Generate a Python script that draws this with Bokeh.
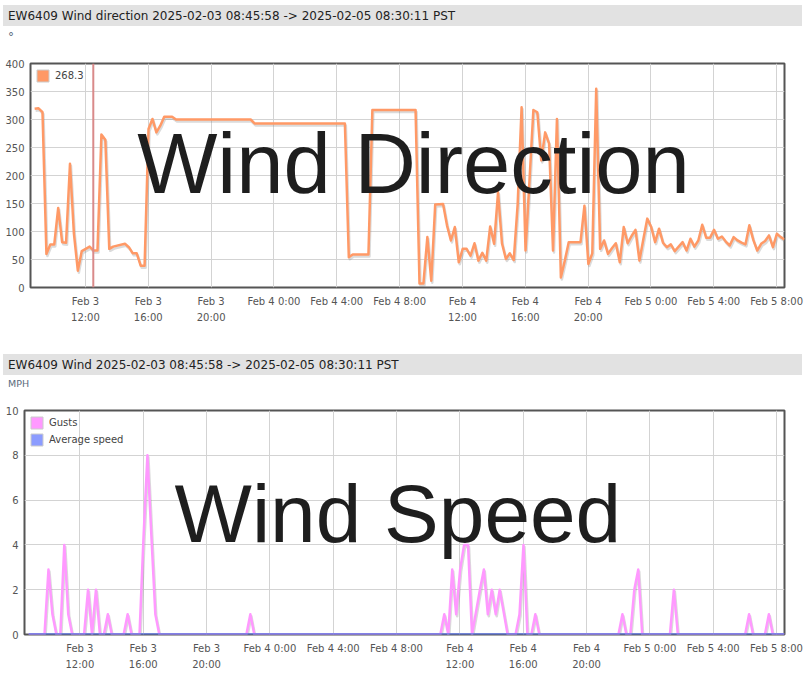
import html
import pandas as pd
from bokeh.plotting import figure
from bokeh.layouts import column, row
from bokeh.models import (Range1d, FixedTicker, ColumnDataSource, Legend, LegendItem,
                          Span, DatetimeAxis, Div)
from bokeh.core.properties import value
from bokeh.transform import dodge
from bokeh.embed import file_html
from bokeh.resources import INLINE

# ---------------- data ----------------
title_dir = "EW6409 Wind direction 2025-02-03 08:45:58 -> 2025-02-05 08:30:11 PST"
title_wind = "EW6409 Wind 2025-02-03 08:45:58 -> 2025-02-05 08:30:11 PST"
unit_dir = "°"
unit_wind = "MPH"
overlay_dir = "Wind Direction"
overlay_wind = "Wind Speed"
range_start = "2025-02-03 08:30:11"
range_end = "2025-02-05 08:30:11"
cursor_time = "2025-02-03 12:30"
legend_dir = "268.3"
legend_gust = "Gusts"
legend_avg = "Average speed"

dir_times = [
    "2025-02-03 08:46", "2025-02-03 09:01", "2025-02-03 09:16", "2025-02-03 09:31",
    "2025-02-03 09:46", "2025-02-03 10:01", "2025-02-03 10:16", "2025-02-03 10:31",
    "2025-02-03 10:46", "2025-02-03 11:01", "2025-02-03 11:16", "2025-02-03 11:31",
    "2025-02-03 11:46", "2025-02-03 12:16", "2025-02-03 12:31", "2025-02-03 12:46",
    "2025-02-03 13:01", "2025-02-03 13:16", "2025-02-03 13:31", "2025-02-03 13:46",
    "2025-02-03 14:31", "2025-02-03 14:46", "2025-02-03 15:01", "2025-02-03 15:16",
    "2025-02-03 15:31", "2025-02-03 15:46", "2025-02-03 16:01", "2025-02-03 16:16",
    "2025-02-03 16:31", "2025-02-03 16:46", "2025-02-03 17:01", "2025-02-03 17:31",
    "2025-02-03 17:46", "2025-02-03 22:31", "2025-02-03 22:46", "2025-02-04 04:31",
    "2025-02-04 04:46", "2025-02-04 05:01", "2025-02-04 06:01", "2025-02-04 06:16",
    "2025-02-04 09:01", "2025-02-04 09:16", "2025-02-04 09:31", "2025-02-04 09:46",
    "2025-02-04 10:01", "2025-02-04 10:16", "2025-02-04 10:46", "2025-02-04 11:01",
    "2025-02-04 11:16", "2025-02-04 11:31", "2025-02-04 11:46", "2025-02-04 12:01",
    "2025-02-04 12:16", "2025-02-04 12:31", "2025-02-04 12:46", "2025-02-04 13:01",
    "2025-02-04 13:16", "2025-02-04 13:31", "2025-02-04 13:46", "2025-02-04 14:01",
    "2025-02-04 14:16", "2025-02-04 14:31", "2025-02-04 14:46", "2025-02-04 15:01",
    "2025-02-04 15:16", "2025-02-04 15:31", "2025-02-04 15:46", "2025-02-04 16:01",
    "2025-02-04 16:16", "2025-02-04 16:31", "2025-02-04 16:46", "2025-02-04 17:01",
    "2025-02-04 17:16", "2025-02-04 17:31", "2025-02-04 17:46", "2025-02-04 18:01",
    "2025-02-04 18:16", "2025-02-04 18:31", "2025-02-04 18:46", "2025-02-04 19:31",
    "2025-02-04 19:46", "2025-02-04 20:01", "2025-02-04 20:16", "2025-02-04 20:31",
    "2025-02-04 20:46", "2025-02-04 21:01", "2025-02-04 21:16", "2025-02-04 21:31",
    "2025-02-04 21:46", "2025-02-04 22:01", "2025-02-04 22:16", "2025-02-04 22:31",
    "2025-02-04 22:46", "2025-02-04 23:01", "2025-02-04 23:16", "2025-02-04 23:31",
    "2025-02-04 23:46", "2025-02-05 00:01", "2025-02-05 00:16", "2025-02-05 00:31",
    "2025-02-05 00:46", "2025-02-05 01:01", "2025-02-05 01:16", "2025-02-05 01:31",
    "2025-02-05 01:46", "2025-02-05 02:01", "2025-02-05 02:16", "2025-02-05 02:31",
    "2025-02-05 02:46", "2025-02-05 03:01", "2025-02-05 03:16", "2025-02-05 03:31",
    "2025-02-05 03:46", "2025-02-05 04:01", "2025-02-05 04:16", "2025-02-05 04:31",
    "2025-02-05 04:46", "2025-02-05 05:01", "2025-02-05 05:16", "2025-02-05 05:31",
    "2025-02-05 05:46", "2025-02-05 06:01", "2025-02-05 06:16", "2025-02-05 06:31",
    "2025-02-05 06:46", "2025-02-05 07:01", "2025-02-05 07:16", "2025-02-05 07:31",
    "2025-02-05 07:46", "2025-02-05 08:01", "2025-02-05 08:16", "2025-02-05 08:30",
]
dir_values = [
    319, 320, 313, 60,
    77, 77, 142, 81,
    80, 221, 96, 30,
    65, 73, 66, 66,
    273, 264, 69, 73,
    78, 72, 61, 61,
    39, 39, 283, 301,
    277, 289, 305, 305,
    300, 300, 293, 293,
    54, 59, 59, 317,
    317, 7, 7, 90,
    12, 148, 149, 111,
    84, 108, 45, 69,
    69, 57, 79, 48,
    62, 48, 109, 78,
    170, 79, 51, 61,
    49, 149, 322, 66,
    190, 317, 313, 227,
    277, 257, 66, 301,
    18, 48, 81, 81,
    146, 42, 61, 355,
    69, 84, 60, 70,
    79, 45, 108, 79,
    92, 103, 48, 86,
    123, 108, 81, 105,
    80, 72, 77, 65,
    73, 81, 66, 87,
    73, 84, 112, 89,
    89, 103, 87, 91,
    82, 75, 90, 84,
    80, 77, 111, 85,
    66, 78, 83, 93,
    72, 96, 90, 86,
]

gust_times = [
    "2025-02-03 08:46", "2025-02-03 09:46", "2025-02-03 10:01", "2025-02-03 10:16",
    "2025-02-03 10:31", "2025-02-03 10:46", "2025-02-03 11:01", "2025-02-03 11:16",
    "2025-02-03 11:31", "2025-02-03 12:16", "2025-02-03 12:31", "2025-02-03 12:46",
    "2025-02-03 13:01", "2025-02-03 13:16", "2025-02-03 13:31", "2025-02-03 13:46",
    "2025-02-03 14:01", "2025-02-03 14:46", "2025-02-03 15:01", "2025-02-03 15:16",
    "2025-02-03 15:46", "2025-02-03 16:01", "2025-02-03 16:16", "2025-02-03 16:31",
    "2025-02-03 16:46", "2025-02-03 17:01", "2025-02-03 22:31", "2025-02-03 22:46",
    "2025-02-03 23:01", "2025-02-04 10:46", "2025-02-04 11:01", "2025-02-04 11:16",
    "2025-02-04 11:31", "2025-02-04 11:46", "2025-02-04 12:01", "2025-02-04 12:16",
    "2025-02-04 12:31", "2025-02-04 12:46", "2025-02-04 13:01", "2025-02-04 13:16",
    "2025-02-04 13:31", "2025-02-04 13:46", "2025-02-04 14:01", "2025-02-04 14:16",
    "2025-02-04 14:31", "2025-02-04 14:46", "2025-02-04 15:01", "2025-02-04 15:31",
    "2025-02-04 15:46", "2025-02-04 16:01", "2025-02-04 16:16", "2025-02-04 16:31",
    "2025-02-04 16:46", "2025-02-04 17:01", "2025-02-04 22:01", "2025-02-04 22:16",
    "2025-02-04 22:31", "2025-02-04 22:46", "2025-02-04 23:01", "2025-02-04 23:16",
    "2025-02-04 23:31", "2025-02-05 01:16", "2025-02-05 01:31", "2025-02-05 01:46",
    "2025-02-05 06:01", "2025-02-05 06:16", "2025-02-05 06:31", "2025-02-05 07:16",
    "2025-02-05 07:31", "2025-02-05 07:46", "2025-02-05 08:30",
]
gust_values = [
    0, 0, 2.9, 0.9,
    0, 0, 4.0, 0.9,
    0, 0, 2.0, 0,
    2.0, 0, 0, 0.9,
    0, 0, 0.9, 0,
    0, 4.3, 8.0, 4.4,
    0.9, 0, 0, 0.9,
    0, 0, 0.9, 0,
    2.9, 0.9, 2.9, 4.0,
    4.0, 0, 1.0, 2.0,
    2.9, 0.9, 2.0, 0.9,
    2.0, 1.0, 0, 0,
    0.9, 4.0, 0, 0,
    0.9, 0, 0, 0.9,
    0, 0, 2.0, 2.9,
    0, 0, 2.0, 0,
    0, 0.9, 0, 0,
    0.9, 0, 0,
]

avg_times = ["2025-02-03 08:46", "2025-02-04 00:01", "2025-02-05 00:01", "2025-02-05 08:30"]
avg_values = [0, 0, 0, 0]

tick_times = [
    "2025-02-03 12:00", "2025-02-03 16:00", "2025-02-03 20:00", "2025-02-04 00:00",
    "2025-02-04 04:00", "2025-02-04 08:00", "2025-02-04 12:00", "2025-02-04 16:00",
    "2025-02-04 20:00", "2025-02-05 00:00", "2025-02-05 04:00", "2025-02-05 08:00",
]
tick_labels = [
    "Feb 3\n12:00", "Feb 3\n16:00", "Feb 3\n20:00", "Feb 4 0:00",
    "Feb 4 4:00", "Feb 4 8:00", "Feb 4\n12:00", "Feb 4\n16:00",
    "Feb 4\n20:00", "Feb 5 0:00", "Feb 5 4:00", "Feb 5 8:00",
]
dir_yticks = [0, 50, 100, 150, 200, 250, 300, 350, 400]
wind_yticks = [0, 2, 4, 6, 8, 10]

# ---------------- helpers ----------------
FONT = "DejaVu Sans"
W = 802


def ms(t):
    return int(pd.Timestamp(t).value // 10**6)


tick_ms = [ms(t) for t in tick_times]
label_line1 = [s.split("\n")[0] for s in tick_labels]
label_line2 = [s.split("\n")[1] if "\n" in s else "" for s in tick_labels]


def header(title, unit, unit_size, unit_gap, H):
    txt = (
        '<div style="margin-left:1px;width:799px;height:21px;background:#e2e2e2;'
        "font-family:'DejaVu Sans';font-size:12px;color:#222222;line-height:22px;"
        'padding-left:5px;box-sizing:border-box;white-space:nowrap;overflow:hidden">'
        + html.escape(title) + '</div>'
        "<div style=\"font-family:'DejaVu Sans';font-size:" + unit_size + ";color:#5a6a7c;"
        'line-height:12px;margin-top:' + unit_gap + ';padding-left:6px;white-space:nowrap">'
        + html.escape(unit) + '</div>'
    )
    return Div(text=txt, width=W, height=H, margin=0)


def make_fig(H, yr, yticks, left, top, bottom):
    p = figure(width=W, height=H, x_axis_type="datetime",
               x_range=Range1d(pd.Timestamp(range_start), pd.Timestamp(range_end)),
               y_range=Range1d(*yr), output_backend="svg", toolbar_location=None,
               min_border_left=left, min_border_right=20,
               min_border_top=top, min_border_bottom=bottom, margin=0)
    p.outline_line_color = "#555555"
    p.outline_line_width = 2
    p.background_fill_color = "white"
    p.border_fill_color = "white"
    p.xaxis.ticker = FixedTicker(ticks=tick_ms)
    p.xaxis.major_label_overrides = dict(zip(tick_ms, label_line1))
    ax2 = DatetimeAxis(ticker=FixedTicker(ticks=tick_ms),
                       major_label_overrides=dict(zip(tick_ms, label_line2)))
    p.add_layout(ax2, "below")
    p.yaxis.ticker = FixedTicker(ticks=yticks)
    for ax in p.axis:
        ax.axis_line_color = None
        ax.major_tick_line_color = None
        ax.minor_tick_line_color = None
        ax.major_tick_out = 0
        ax.major_tick_in = 0
        ax.major_label_text_font = FONT
        ax.major_label_text_font_size = "10px"
        ax.major_label_text_color = "#555555"
    p.xaxis[0].major_label_standoff = 8
    ax2.major_label_standoff = 2
    p.yaxis.major_label_standoff = 6
    p.xgrid.grid_line_color = "#d3d3d3"
    p.ygrid.grid_line_color = "#d3d3d3"
    return p


def legend(p, items):
    lg = Legend(items=items, location="top_left", margin=5, padding=7,
                spacing=2, glyph_width=15, glyph_height=15, label_height=15,
                label_standoff=5, border_line_color=None,
                background_fill_alpha=0, label_text_font=FONT,
                label_text_font_size="10px", label_text_color="#444444")
    p.add_layout(lg)


# ---------------- chart 1: wind direction ----------------
h1 = header(title_dir, unit_dir, "12px", "5px", 37)
p1 = make_fig(312, (0, 400), dir_yticks, 26, 21, 67)

src_dir = ColumnDataSource(dict(t=pd.to_datetime(dir_times), v=dir_values))
px1 = 15.75  # px per hour, used only for the 1px drop-shadow offset
sw1 = p1.quad(left="t", right="t", top="v", bottom="v", source=src_dir,
              fill_color="#ff9966", line_color="#cccccc", line_width=1)
p1.line(x=dodge("t", 3600000 / px1), y=dodge("v", -2 * 400 / 224), source=src_dir,
        line_color="#888888", line_alpha=0.3, line_width=2.5, line_join="round")
p1.line(x="t", y="v", source=src_dir, line_color="#ff9966", line_width=2.5,
        line_join="round")
p1.add_layout(Span(location=ms(cursor_time), dimension="height",
                   line_color="#d98a8a", line_width=2))
legend(p1, [LegendItem(label=legend_dir, renderers=[sw1])])
p1.text(x=[pd.Timestamp("2025-02-04 08:53")], y=[222], text=[overlay_dir],
        text_font=value("Liberation Sans"), text_font_size="85px",
        text_color="#1e1e1e", text_align="center", text_baseline="middle")

# ---------------- chart 2: wind speed ----------------
h2 = header(title_wind, unit_wind, "9.5px", "3px", 36)
p2 = make_fig(284, (0, 10), wind_yticks, 20, 20, 40)

src_g = ColumnDataSource(dict(t=pd.to_datetime(gust_times), v=gust_values))
src_a = ColumnDataSource(dict(t=pd.to_datetime(avg_times), v=avg_values))
px2 = 15.875
sw_g = p2.quad(left="t", right="t", top="v", bottom="v", source=src_g,
               fill_color="#ff99ff", line_color="#cccccc", line_width=1)
sw_a = p2.quad(left="t", right="t", top="v", bottom="v", source=src_a,
               fill_color="#8c9cff", line_color="#cccccc", line_width=1)
p2.line(x=dodge("t", 3600000 / px2), y=dodge("v", -2 * 10 / 224), source=src_g,
        line_color="#888888", line_alpha=0.3, line_width=2.5, line_join="round")
p2.line(x="t", y="v", source=src_g, line_color="#ff99ff", line_width=2.5,
        line_join="round")
p2.line(x="t", y="v", source=src_a, line_color="#5f78e6", line_width=2.5)
legend(p2, [LegendItem(label=legend_gust, renderers=[sw_g]),
            LegendItem(label=legend_avg, renderers=[sw_a])])
p2.text(x=[pd.Timestamp("2025-02-04 08:05")], y=[5.39], text=[overlay_wind],
        text_font=value("Liberation Sans"), text_font_size="82px",
        text_color="#1e1e1e", text_align="center", text_baseline="middle")

layout = column(h1, row(p1, margin=0), h2, row(p2, margin=0), spacing=0,
                styles={"margin-left": "2px", "margin-top": "5px"})

with open("out.html", "w") as f:
    f.write(file_html(layout, INLINE))
